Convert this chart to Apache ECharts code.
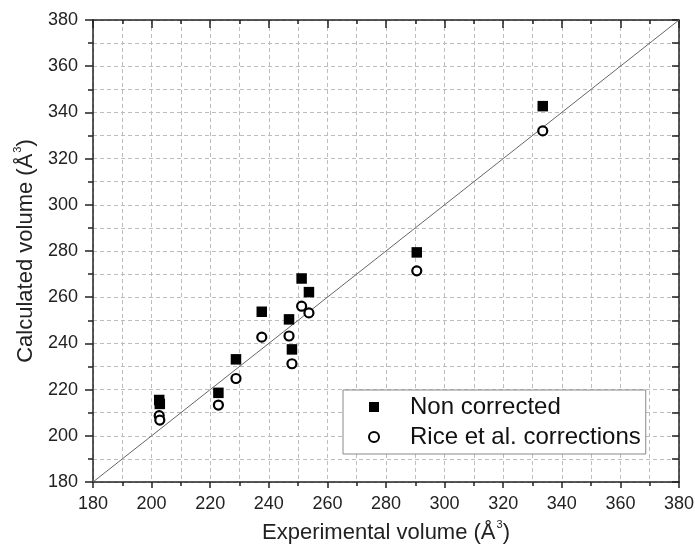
<!DOCTYPE html>
<html>
<head>
<meta charset="utf-8">
<script src="https://cdn.jsdelivr.net/npm/echarts@6/dist/echarts.min.js"></script>
<style>html,body{margin:0;padding:0;background:#fff;}#c{width:695px;height:548px;}</style>
</head>
<body>
<div id="c"></div>
<script>
// Data
const expVolume = [202.6, 202.8, 222.8, 228.8, 237.6, 246.9, 247.9, 251.2, 253.7, 290.5, 333.5];
const nonCorrected = [215.5, 213.8, 218.6, 233.1, 253.7, 250.4, 237.4, 268.1, 262.2, 279.4, 342.7];
const riceCorrected = [208.7, 206.8, 213.3, 224.8, 242.7, 243.2, 231.2, 256.1, 253.2, 271.4, 332.0];
const identityLine = [180, 380];
const seriesNames = ['Non corrected', 'Rice et al. corrections'];
const axisMin = 180, axisMax = 380, axisStep = 20;

const FONT = '"Liberation Sans", Arial, sans-serif';
const gridLine = { show: true, lineStyle: { color: '#bdbdbd', type: [4, 3], width: 1 } };
const axisLine = { show: true, onZero: false, lineStyle: { color: '#222', width: 1.5 } };
const supRich = {
  sup: { fontSize: 11, fontFamily: FONT, color: '#222', verticalAlign: 'top', padding: [0, 0, 16, 1] }
};

const chart = echarts.init(document.getElementById('c'), null, { renderer: 'canvas' });
chart.setOption({
  animation: false,
  backgroundColor: '#fff',
  grid: { left: 93, right: 16, top: 20, bottom: 66, outerBoundsMode: 'none', containLabel: false },
  legend: {
    orient: 'vertical',
    left: 343, top: 390,
    data: seriesNames,
    backgroundColor: '#fff',
    borderColor: '#888',
    borderWidth: 1,
    padding: [3, 5, 3, 25],
    itemGap: 2,
    itemWidth: 10, itemHeight: 10,
    textStyle: { fontSize: 24, fontFamily: FONT, color: '#111', lineHeight: 28, padding: [0, 0, 0, 26] }
  },
  xAxis: [{
    type: 'value', min: axisMin, max: axisMax, interval: axisStep,
    name: 'Experimental volume (Å{sup|3})', nameLocation: 'middle', nameGap: 37,
    nameTextStyle: { fontSize: 22, fontFamily: FONT, color: '#222', rich: supRich },
    axisLine: axisLine,
    axisTick: { show: true, inside: false, length: 6, lineStyle: { color: '#222', width: 1.5 } },
    minorTick: { show: true, splitNumber: 2, length: 4, lineStyle: { color: '#222', width: 1.5 } },
    axisLabel: { fontSize: 18, fontFamily: FONT, color: '#222', margin: 13 },
    splitLine: gridLine,
    minorSplitLine: gridLine
  }, {
    type: 'value', position: 'top', min: axisMin, max: axisMax, interval: axisStep,
    axisLine: axisLine,
    axisTick: { show: true, inside: true, length: 8, lineStyle: { color: '#222', width: 1.5 } },
    minorTick: { show: true, splitNumber: 2, length: 4, lineStyle: { color: '#222', width: 1.5 } },
    axisLabel: { show: false },
    splitLine: { show: false }
  }],
  yAxis: [{
    type: 'value', min: axisMin, max: axisMax, interval: axisStep,
    name: 'Calculated volume (Å{sup|3})', nameLocation: 'middle', nameGap: 54,
    nameTextStyle: { fontSize: 22, fontFamily: FONT, color: '#222', rich: supRich },
    axisLine: axisLine,
    axisTick: { show: true, inside: false, length: 8, lineStyle: { color: '#222', width: 1.5 } },
    minorTick: { show: true, splitNumber: 2, length: 5, lineStyle: { color: '#222', width: 1.5 } },
    axisLabel: { fontSize: 18, fontFamily: FONT, color: '#222', margin: 15 },
    splitLine: gridLine,
    minorSplitLine: gridLine
  }, {
    type: 'value', position: 'right', min: axisMin, max: axisMax, interval: axisStep,
    axisLine: axisLine,
    axisTick: { show: true, inside: true, length: 7, lineStyle: { color: '#222', width: 1.5 } },
    minorTick: { show: true, splitNumber: 2, length: 7, lineStyle: { color: '#222', width: 1.5 } },
    axisLabel: { show: false },
    splitLine: { show: false }
  }],
  series: [{
    type: 'line',
    data: identityLine.map(v => [v, v]),
    symbol: 'none',
    lineStyle: { color: '#666', width: 1 },
    silent: true,
    z: 1
  }, {
    name: seriesNames[0],
    type: 'scatter',
    symbol: 'rect',
    symbolSize: 10.5,
    itemStyle: { color: '#000', opacity: 1 },
    data: expVolume.map((x, i) => [x, nonCorrected[i]]),
    z: 3
  }, {
    name: seriesNames[1],
    type: 'scatter',
    symbol: 'circle',
    symbolSize: 9,
    itemStyle: { color: '#fff', borderColor: '#000', borderWidth: 2.2, opacity: 1 },
    data: expVolume.map((x, i) => [x, riceCorrected[i]]),
    z: 4
  }]
});
</script>
</body>
</html>
